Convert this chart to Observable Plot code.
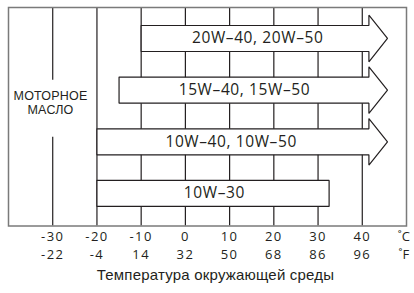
<!DOCTYPE html>
<html>
<head>
<meta charset="utf-8">
<script src="https://cdn.jsdelivr.net/npm/d3@7"></script>
<script src="https://cdn.jsdelivr.net/npm/@observablehq/plot@0.6"></script>
<style>
  html, body { margin: 0; padding: 0; background: #fff; }
</style>
</head>
<body>
<div id="chart"></div>
<script>
// Oil grades and their ambient temperature ranges (°C)
const grades = ["20W–40, 20W–50", "15W–40, 15W–50", "10W–40, 10W–50", "10W–30"];
const minTemp = [-10, -15, -20, -20];
const maxTemp = [41.5, 41.5, 41.5, 32.5];   // end of bar body
const openEnded = [true, true, true, false]; // arrow head = "and above"
const arrowTip = 45.7;

// Axis labels
const celsiusTicks = [-30, -20, -10, 0, 10, 20, 30, 40];
const fahrenheitLabels = ["-22", "-4", "14", "32", "50", "68", "86", "96"];
const sideLabel = "МОТОРНОЕ\nМАСЛО";
const axisTitle = "Температура окружающей среды";

const rows = grades.map((g, i) => ({
  grade: g, row: i, start: minTemp[i], end: maxTemp[i], open: openEnded[i]
}));

// Outline of each bar/arrow as a closed polygon in data space
const bodyH = 0.252, headH = 0.451;
const outline = rows.flatMap(r => {
  const pts = r.open
    ? [[r.start, r.row - bodyH], [r.end, r.row - bodyH], [r.end, r.row - headH],
       [arrowTip, r.row], [r.end, r.row + headH], [r.end, r.row + bodyH],
       [r.start, r.row + bodyH], [r.start, r.row - bodyH]]
    : [[r.start, r.row - bodyH], [r.end, r.row - bodyH], [r.end, r.row + bodyH],
       [r.start, r.row + bodyH], [r.start, r.row - bodyH]];
  return pts.map(([x, y]) => ({grade: r.grade, x, y}));
});

// Grid lines; the -30 line is interrupted by the side label
const yTop = -0.6, yBottom = 3.63;
const grid = celsiusTicks.flatMap(t => t === -30
  ? [{x: t, y1: yTop, y2: 0.81}, {x: t, y1: 1.91, y2: yBottom}]
  : [{x: t, y1: yTop, y2: yBottom}]);

const ink = "#231f20";
const chart = Plot.plot({
  width: 414,
  height: 293,
  marginLeft: 8,
  marginRight: 8,
  marginTop: 7,
  marginBottom: 67.5,
  style: {fontFamily: "'Open Sans', sans-serif", background: "#fff"},
  x: {domain: [-40, 50], axis: null},
  y: {domain: [yTop, yBottom], reverse: true, axis: null},
  marks: [
    Plot.ruleX(grid, {x: "x", y1: "y1", y2: "y2", stroke: ink, strokeWidth: 1.2}),
    Plot.line(outline, {x: "x", y: "y", z: "grade", fill: "white", stroke: ink,
      strokeWidth: 1.2, strokeLinejoin: "miter", curve: "linear"}),
    Plot.text(rows, {x: d => (d.start + d.end) / 2 + (d.open ? 0.6 - d.row * 0.5 : 0.3),
      y: "row", text: "grade", fontSize: 15.5, fill: ink,
      fontFamily: "'Open Sans', sans-serif"}),
    Plot.text([sideLabel], {x: -30.5, y: 1.237, text: d => d, fontSize: 12.5,
      lineHeight: 1.1, fill: ink, fontFamily: "'Liberation Sans', Arial, sans-serif"}),
    Plot.frame({stroke: "#7a7a7a", strokeWidth: 1.5}),
    Plot.text(celsiusTicks, {x: d => d, text: d => String(d), frameAnchor: "bottom",
      dy: 15, fontSize: 13, fill: ink}),
    Plot.text(["˚C"], {x: 49.4, text: d => d, frameAnchor: "bottom", dy: 15,
      fontSize: 13, fill: ink}),
    Plot.text(fahrenheitLabels, {x: (d, i) => celsiusTicks[i], text: d => d,
      frameAnchor: "bottom", dy: 33, fontSize: 13, fill: ink}),
    Plot.text(["˚F"], {x: 49.4, text: d => d, frameAnchor: "bottom", dy: 33,
      fontSize: 13, fill: ink}),
    Plot.text([axisTitle], {text: d => d, frameAnchor: "bottom", dx: 8, dy: 54,
      fontSize: 15, fill: ink, fontFamily: "'Liberation Sans', Arial, sans-serif"})
  ]
});
// letter spacing to match the wider typeface of the original
const textGroups = chart.querySelectorAll('g[aria-label="text"]');
const spacing = ["0.6px", "0.2px", "1.4px", "0px", "1.4px", "0px", "0.2px"];
textGroups.forEach((g, i) => { if (spacing[i]) g.style.letterSpacing = spacing[i]; });
document.getElementById("chart").appendChild(chart);
</script>
</body>
</html>
